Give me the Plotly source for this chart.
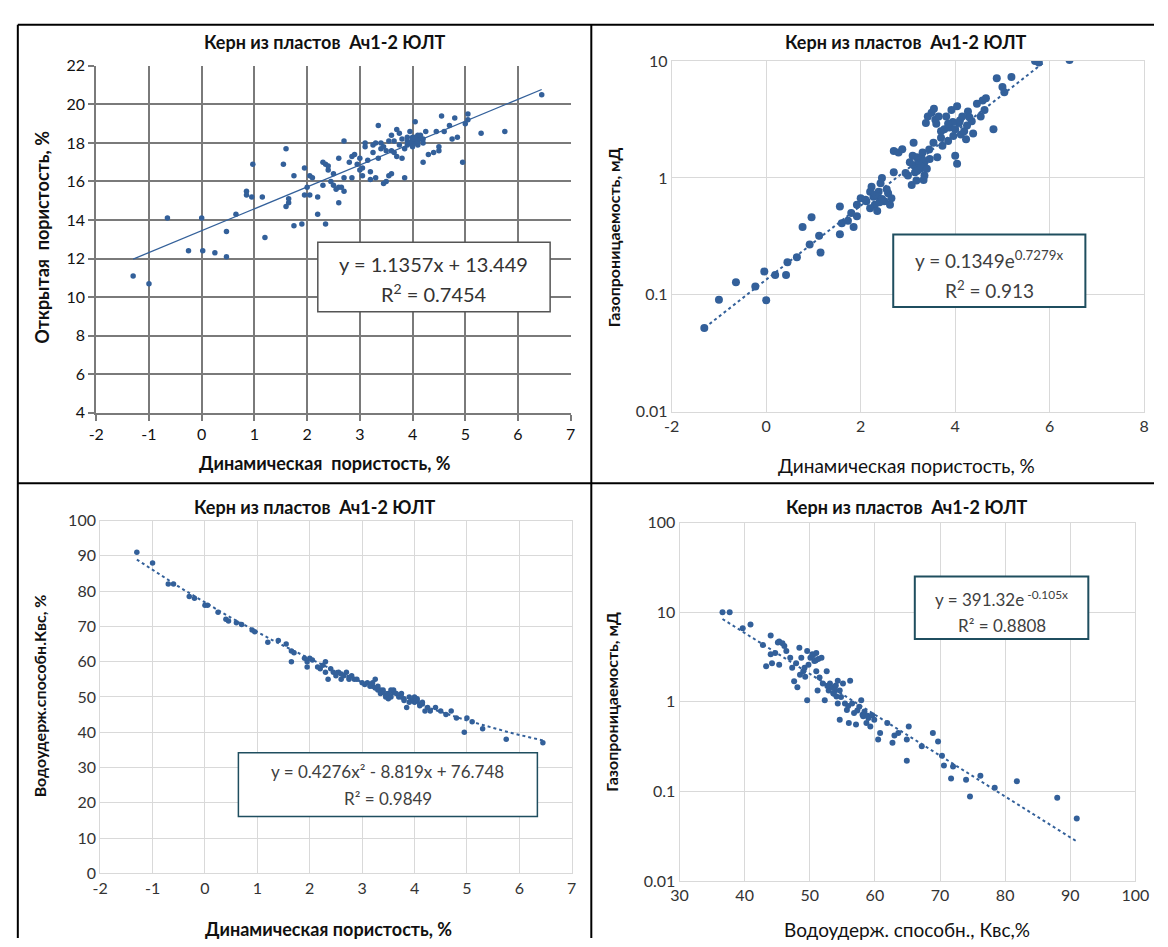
import math
import plotly.graph_objects as go

W, H = 1168, 947
FONT = "Lato"
BLUE = "#33609a"

# ---------------- data ----------------
title_text = "Керн из пластов  Ач1-2 ЮЛТ"

# Panel 1: dynamic porosity vs open porosity
p1_x = [-1.3, -1.0, -0.65, 0.0, -0.25, 0.02, 0.25, 0.47, 0.47, 0.65, 0.85, 0.85, 0.95, 0.97, 1.15,
        1.2, 1.55, 1.6, 1.6, 1.65, 1.65, 1.75, 1.75, 1.9, 1.95, 1.95, 2.0, 2.05, 2.05, 2.1,
        2.2, 2.2, 2.3, 2.3, 2.35, 2.35, 2.4, 2.4, 2.45, 2.5, 2.5, 2.55, 2.6, 2.6, 2.65,
        2.6, 2.7, 2.7, 2.7, 2.8, 2.85, 2.85, 2.9, 3.0, 3.0, 3.05, 3.1, 3.1, 3.2, 3.2,
        3.25, 3.25, 3.3, 3.3, 3.35, 3.35, 3.4, 3.4, 3.45, 3.5, 3.55, 3.6, 3.6, 3.6, 3.65,
        3.7, 3.7, 3.75, 3.8, 3.8, 3.85, 3.9, 3.9, 3.95, 4.0, 4.0, 4.0, 4.05, 4.05, 4.1,
        4.1, 4.15, 4.2, 4.2, 4.25, 4.3, 4.4, 4.45, 4.5, 4.5, 4.55, 4.6, 4.7, 4.75, 4.8,
        4.85, 4.95, 5.0, 5.05, 5.05, 5.3, 5.75, 6.45, 4.1, 3.95, 4.0, 3.15, 3.5, 2.95, 3.85,
        4.05, 4.15, 3.45, 3.55, 3.05, 3.9, 4.0, 4.05, 4.1, 3.95, 4.2, 3.75, 3.65]
p1_y = [11.1, 10.7, 14.1, 14.1, 12.4, 12.4, 12.3, 12.1, 13.4, 14.3, 15.5, 15.3, 15.2, 16.9, 15.2,
        13.1, 16.9, 17.7, 14.7, 15.1, 14.9, 16.3, 13.7, 13.8, 15.3, 16.7, 15.7, 15.3, 16.3, 16.2,
        15.2, 14.3, 17.0, 15.8, 16.9, 13.8, 16.6, 16.8, 16.0, 15.8, 16.4, 15.6, 15.7, 17.2, 15.7,
        14.9, 15.5, 16.2, 18.1, 17.0, 16.2, 17.3, 17.4, 16.6, 17.2, 16.3, 17.8, 18.0, 16.5, 16.1,
        17.5, 17.9, 18.0, 16.2, 18.9, 17.2, 17.7, 18.0, 15.9, 16.0, 16.3, 16.4, 17.6, 18.4, 17.5,
        18.7, 17.3, 18.5, 18.2, 17.2, 16.2, 17.9, 18.3, 18.0, 18.3, 18.1, 17.8, 18.0, 19.1, 18.3,
        17.9, 18.2, 18.0, 17.0, 18.6, 17.4, 17.5, 18.6, 17.6, 17.8, 19.4, 18.6, 18.9, 18.2, 19.3,
        18.3, 17.0, 19.0, 19.5, 19.2, 18.5, 18.6, 20.5, 18.4, 18.6, 18.2, 17.1, 17.6, 16.9, 17.7,
        18.2, 18.4, 17.8, 18.1, 16.7, 18.1, 18.2, 18.3, 18.1, 18.0, 18.2, 17.9, 18.1]
p1_coef = [1.1357, 13.449]
p1_xfit = [-1.3, 6.45]

# Panel 2: dynamic porosity vs gas permeability
p2_x = [-1.31, -1.0, -0.64, -0.23, -0.04, 0.0, 0.19, 0.42, 0.45, 0.65, 0.77, 0.92, 0.96, 1.15,
        1.12, 1.56, 1.56, 1.6, 1.73, 1.85, 1.92, 1.92, 2.0, 2.12, 2.2, 2.23, 2.27, 2.3, 2.35,
        2.38, 2.42, 2.45, 2.5, 2.58, 2.62, 2.65, 2.7, 2.7, 2.8, 2.88, 3.04, 3.08, 3.12, 3.12,
        3.15, 3.19, 3.23, 3.27, 3.31, 3.33, 3.35, 3.38, 3.42, 3.46, 3.5, 3.54, 3.58, 3.62, 3.65,
        3.7, 3.73, 3.77, 3.81, 3.85, 3.88, 3.92, 3.96, 4.0, 4.04, 4.04, 4.08, 4.12, 4.15, 4.19,
        4.23, 4.27, 4.35, 4.38, 4.46, 4.54, 4.58, 4.62, 4.65, 4.81, 4.88, 5.0, 5.04, 5.19, 5.69,
        5.77, 6.42, 3.25, 3.3, 3.2, 2.35, 2.4, 3.6, 3.95, 2.2, 3.0,
        3.28, 3.35, 3.22, 3.4, 3.18, 3.1, 2.95, 2.55, 2.3, 2.45, 3.7, 3.85, 4.1, 4.25, 3.55,
        3.45, 4.0, 4.3, 2.1, 1.8]
p2_y = [0.052, 0.091, 0.128, 0.118, 0.158, 0.09, 0.148, 0.148, 0.19, 0.21, 0.38, 0.27, 0.46, 0.23,
        0.32, 0.33, 0.57, 0.41, 0.43, 0.38, 0.47, 0.59, 0.67, 0.63, 0.76, 0.84, 0.69, 0.59, 0.52,
        0.76, 0.9, 1.0, 0.63, 0.74, 0.59, 0.67, 1.12, 1.7, 1.65, 1.76, 1.36, 0.87, 2.0, 1.28,
        1.12, 1.5, 1.36, 1.2, 1.65, 0.96, 1.36, 2.95, 3.35, 1.45, 3.6, 2.0, 3.15, 1.5, 3.35,
        2.2, 1.88, 2.6, 3.35, 2.07, 2.7, 3.8, 2.28, 1.55, 1.32, 4.1, 2.95, 2.35, 3.35, 2.5,
        2.14, 3.7, 3.05, 2.4, 4.3, 3.35, 4.6, 3.8, 4.8, 2.6, 7.1, 6.0, 5.4, 7.3, 10.0,
        9.7, 10.2, 1.3, 1.45, 1.15, 0.7, 0.62, 2.9, 3.0, 0.55, 1.05,
        1.25, 1.05, 1.4, 1.2, 0.95, 1.55, 1.1, 0.8, 0.72, 0.66, 2.5, 2.9, 3.1, 2.8, 3.9,
        1.75, 2.6, 3.3, 0.65, 0.5]
p2_coef = [0.1349, 0.7279]
p2_xfit = [-1.3, 5.9]

# Panel 3: dynamic porosity vs water retention capacity
p3_x = [-1.3, -1.0, -0.7, -0.6, -0.3, -0.2, 0.0, 0.05, 0.25, 0.4, 0.45, 0.6, 0.7, 0.9, 0.95,
        1.2, 1.4, 1.55, 1.65, 1.7, 1.65, 1.9, 1.95, 2.0, 1.95, 2.2, 2.25, 2.3, 2.3, 2.35,
        2.4, 2.45, 2.5, 2.55, 2.6, 2.65, 2.7, 2.75, 2.8, 2.85, 2.9, 3.0, 3.1, 3.15, 3.2,
        3.25, 3.3, 3.35, 3.4, 3.45, 3.5, 3.55, 3.6, 3.65, 3.7, 3.75, 3.8, 3.85, 3.9, 3.95,
        4.0, 4.05, 4.1, 4.15, 4.2, 4.3, 4.4, 4.5, 4.6, 4.7, 4.8, 4.95, 5.0, 5.1, 5.3,
        5.75, 6.45, 2.05, 2.15, 3.05, 3.3, 3.35, 3.45, 3.6, 3.7, 4.0, 4.05, 4.1, 2.6, 2.75,
        3.2, 3.25, 3.4, 3.5, 3.55, 3.75, 3.8, 3.9, 4.15, 4.25]
p3_y = [91, 88, 82, 82, 78.5, 78, 76, 76, 74, 72, 71.5, 71, 70.5, 69, 68.5,
        65.5, 66, 65, 63, 62.5, 60, 61, 60, 61, 58.5, 58, 59, 57, 60, 55,
        58, 57, 56, 57, 55, 56, 57, 55, 56, 55, 55, 54, 54, 53, 53,
        55, 52, 51, 52, 50, 51, 50, 52, 51, 50, 51, 49, 47, 50, 49,
        50, 49, 48, 48, 46, 46, 47, 46, 45, 46, 44, 40, 44, 43, 41,
        38, 37, 60.5, 58.5, 53.5, 53, 52, 50.5, 51.5, 50.5, 48.5, 49.5, 47.5, 56.5, 55.5,
        54, 52.5, 51.5, 49.5, 52, 50, 49.5, 48.5, 48.5, 47]
p3_coef = [0.4276, -8.819, 76.748]
p3_xfit = [-1.3, 6.45]

# Panel 4: water retention capacity vs gas permeability
p4_x = [36.6, 37.7, 39.7, 40.9, 44.0, 42.8, 45.3, 45.8, 44.0, 43.3, 44.2, 45.3, 44.7, 46.4, 47.0,
        47.3, 47.9, 47.6, 48.1, 48.4, 48.7, 49.0, 49.3, 49.6, 49.8, 50.1, 50.4, 50.7, 51.0, 51.0,
        51.2, 51.5, 49.6, 51.8, 52.0, 52.3, 52.6, 52.9, 53.1, 53.4, 53.7, 54.0, 54.3, 54.3, 54.6,
        54.8, 55.1, 55.4, 54.6, 55.7, 56.0, 56.2, 56.5, 56.8, 57.1, 57.6, 57.9, 58.2, 58.4, 58.7,
        59.0, 59.3, 59.6, 59.9, 60.5, 60.8, 61.9, 62.7, 63.0, 63.6, 64.9, 65.2, 64.9, 67.2, 68.9,
        69.7, 70.3, 70.6, 71.7, 72.0, 74.0, 76.2, 74.6, 78.4, 81.8, 88.0, 91.0,
        50.5, 50.9, 51.3, 49.2, 48.5, 53.6, 53.9, 54.1, 52.7, 55.9, 58.9, 58.1, 57.3, 46.1, 45.1]
p4_y = [10.0, 10.0, 6.6, 7.3, 5.5, 4.3, 4.7, 4.5, 3.4, 2.5, 2.7, 2.6, 3.5, 3.7, 3.1,
        2.4, 2.7, 1.7, 1.45, 4.0, 3.1, 2.2, 1.9, 3.7, 2.6, 3.1, 3.4, 2.85, 3.5, 2.2,
        1.34, 1.87, 1.04, 3.1, 1.6, 1.04, 2.2, 1.34, 1.6, 1.45, 1.23, 1.52, 0.96, 1.72, 1.34,
        1.13, 1.6, 0.96, 0.63, 0.81, 0.58, 1.72, 0.96, 0.75, 0.56, 0.88, 1.04, 0.69, 0.78, 0.58,
        0.66, 0.53, 0.71, 0.63, 0.38, 0.45, 0.58, 0.35, 0.42, 0.45, 0.38, 0.53, 0.22, 0.32, 0.45,
        0.36, 0.25, 0.195, 0.14, 0.19, 0.135, 0.15, 0.088, 0.11, 0.13, 0.085, 0.05,
        3.3, 2.9, 3.0, 2.4, 2.0, 1.25, 1.35, 1.15, 1.5, 0.9, 0.7, 0.72, 0.8, 4.2, 4.6]
p4_coef = [391.32, -0.105]
p4_xfit = [36.6, 91.0]

ticks_lin1 = [-2, -1, 0, 1, 2, 3, 4, 5, 6, 7]
ticks_y1 = [4, 6, 8, 10, 12, 14, 16, 18, 20, 22]
ticks_x2 = [-2, 0, 2, 4, 6, 8]
ticks_log2 = [0.01, 0.1, 1, 10]
ticks_y3 = [0, 10, 20, 30, 40, 50, 60, 70, 80, 90, 100]
ticks_x4 = [30, 40, 50, 60, 70, 80, 90, 100]
ticks_log4 = [0.01, 0.1, 1, 10, 100]


def lbl(v):
    return "%g" % v


def px(x):
    return x / W


def py(y):
    return 1 - y / H


def span(a, b, n):
    return [a + (b - a) * i / n for i in range(n + 1)]


fig = go.Figure()

# ---- traces ----
fig.add_trace(go.Scatter(x=p1_x, y=p1_y, mode="markers", xaxis="x", yaxis="y",
                         marker=dict(color=BLUE, size=5.5)))
fx1 = span(p1_xfit[0], p1_xfit[1], 50)
fig.add_trace(go.Scatter(x=fx1, y=[p1_coef[0] * v + p1_coef[1] for v in fx1], mode="lines",
                         xaxis="x", yaxis="y", line=dict(color=BLUE, width=1.3)))

fig.add_trace(go.Scatter(x=p2_x, y=p2_y, mode="markers", xaxis="x2", yaxis="y2",
                         marker=dict(color=BLUE, size=8)))
fx2 = span(p2_xfit[0], p2_xfit[1], 60)
fig.add_trace(go.Scatter(x=fx2, y=[p2_coef[0] * math.exp(p2_coef[1] * v) for v in fx2], mode="lines",
                         xaxis="x2", yaxis="y2", line=dict(color=BLUE, width=2, dash="dot")))

fig.add_trace(go.Scatter(x=p3_x, y=p3_y, mode="markers", xaxis="x3", yaxis="y3",
                         marker=dict(color=BLUE, size=5.5)))
fx3 = span(p3_xfit[0], p3_xfit[1], 60)
fig.add_trace(go.Scatter(x=fx3, y=[p3_coef[0] * v * v + p3_coef[1] * v + p3_coef[2] for v in fx3],
                         mode="lines", xaxis="x3", yaxis="y3",
                         line=dict(color=BLUE, width=2, dash="dot")))

fig.add_trace(go.Scatter(x=p4_x, y=p4_y, mode="markers", xaxis="x4", yaxis="y4",
                         marker=dict(color=BLUE, size=6)))
fx4 = span(p4_xfit[0], p4_xfit[1], 60)
fig.add_trace(go.Scatter(x=fx4, y=[p4_coef[0] * math.exp(p4_coef[1] * v) for v in fx4], mode="lines",
                         xaxis="x4", yaxis="y4", line=dict(color=BLUE, width=2, dash="dot")))

tickfont = dict(family=FONT, size=16, color="#111111")
tickfont_l = dict(family=FONT, size=16, color="#333333")
DARK_GRID = "#7a7a7a"
LIGHT_GRID = "#d9d9d9"


def light_axis(domain, rng, vals, anchor, log=False):
    d = dict(domain=domain, range=rng, tickvals=vals, ticktext=[lbl(v) for v in vals],
             showgrid=True, gridcolor=LIGHT_GRID, gridwidth=1, zeroline=False, showline=True,
             linecolor=LIGHT_GRID, linewidth=1, mirror=True, ticks="", tickfont=tickfont_l,
             anchor=anchor)
    if log:
        d["type"] = "log"
    return d


layout = dict(
    width=W, height=H, margin=dict(l=0, r=0, t=0, b=0),
    paper_bgcolor="white", plot_bgcolor="white", showlegend=False,
    font=dict(family=FONT),
    xaxis=dict(domain=[px(89), px(573)], range=[-2, 7], tickvals=ticks_lin1,
               ticktext=[lbl(v) for v in ticks_lin1], showgrid=True, gridcolor=DARK_GRID, gridwidth=1.8,
               zeroline=False, showline=True, linecolor=DARK_GRID, linewidth=1.8,
               ticks="outside", ticklen=6, tickcolor=DARK_GRID, tickwidth=1.8, tickfont=tickfont,
               anchor="y"),
    yaxis=dict(domain=[py(411), py(57)], range=[4, 22], tickvals=ticks_y1,
               ticktext=[lbl(v) for v in ticks_y1], showgrid=True, gridcolor=DARK_GRID, gridwidth=1.8,
               zeroline=False, showline=True, linecolor=DARK_GRID, linewidth=1.8,
               ticks="outside", ticklen=6, tickcolor=DARK_GRID, tickwidth=1.8, tickfont=tickfont,
               anchor="x"),
    xaxis2=light_axis([px(676), px(1158)], [-2, 8], ticks_x2, "y2"),
    yaxis2=light_axis([py(410), py(52)], [-2, 1], ticks_log2, "x2", log=True),
    xaxis3=light_axis([px(93), px(574)], [-2, 7], ticks_lin1, "y3"),
    yaxis3=light_axis([py(881), py(521)], [0, 100], ticks_y3, "x3"),
    xaxis4=light_axis([px(684), px(1149)], [30, 100], ticks_x4, "y4"),
    yaxis4=light_axis([py(889), py(523)], [-2, 2], ticks_log4, "x4", log=True),
)
fig.update_layout(**layout)

shapes = []
# outer frame & dividers
for (x0, y0, x1, y1) in [(9, 15, 9, H), (9, 15, W, 15), (594, 15, 594, H), (9, 483, W, 483)]:
    shapes.append(dict(type="line", xref="paper", yref="paper", x0=px(x0), y0=py(y0), x1=px(x1), y1=py(y1),
                       line=dict(color="black", width=2)))

# equation boxes
boxes = [
    dict(x0=315, y0=237, x1=552, y1=308, color="#555555", w=1.5,
         l1="y = 1.1357x + 13.449", l2="R<sup>2</sup> = 0.7454", ty1=259, ty2=289, size=20, c="#333333"),
    dict(x0=902, y0=229, x1=1098, y1=303, color="#1f4e5f", w=2,
         l1="y = 0.1349e<sup>0.7279x</sup>", l2="R<sup>2</sup> = 0.913", ty1=255, ty2=285, size=19, c="#404040"),
    dict(x0=234, y0=758, x1=539, y1=823, color="#1f4e5f", w=1.5,
         l1="y = 0.4276x² - 8.819x + 76.748", l2="R² = 0.9849", ty1=777, ty2=805, size=17, c="#404040"),
    dict(x0=924, y0=578, x1=1101, y1=642, color="#1f4e5f", w=2,
         l1="y = 391.32e<sup> -0.105x</sup>", l2="R² = 0.8808", ty1=601, ty2=628, size=17, c="#404040"),
]
annotations = []
for b in boxes:
    shapes.append(dict(type="rect", xref="paper", yref="paper", x0=px(b["x0"]), y0=py(b["y0"]),
                       x1=px(b["x1"]), y1=py(b["y1"]), fillcolor="white",
                       line=dict(color=b["color"], width=b["w"]), layer="above"))
    cx = px((b["x0"] + b["x1"]) / 2)
    for t, ty in [(b["l1"], b["ty1"]), (b["l2"], b["ty2"])]:
        annotations.append(dict(xref="paper", yref="paper", x=cx, y=py(ty), text=t, showarrow=False,
                                xanchor="center", yanchor="middle",
                                font=dict(family=FONT, size=b["size"], color=b["c"])))

# titles
for (tx, ty) in [(322, 33), (915, 33), (312, 507), (916, 507)]:
    annotations.append(dict(xref="paper", yref="paper", x=px(tx), y=py(ty), text="<b>" + title_text + "</b>",
                            showarrow=False, xanchor="center", yanchor="middle",
                            font=dict(family=FONT, size=18, color="#111111")))

# axis titles
axis_titles = [
    (322, 462, "<b>Динамическая  пористость, %</b>", 0, 18),
    (916, 465, "Динамическая пористость, %", 0, 19),
    (326, 938, "<b>Динамическая пористость, %</b>", 0, 18),
    (916, 938, "Водоудерж. способн., Квс,%", 0, 19),
    (34, 232, "<b>Открытая  пористость, %</b>", -90, 18),
    (616, 232, "<b>Газопроницаемость, мД</b>", -90, 16),
    (32, 700, "<b>Водоудерж.способн.Квс, %</b>", -90, 16),
    (615, 706, "<b>Газопроницаемость, мД</b>", -90, 16),
]
for (tx, ty, t, ang, sz) in axis_titles:
    annotations.append(dict(xref="paper", yref="paper", x=px(tx), y=py(ty), text=t, showarrow=False,
                            xanchor="center", yanchor="middle", textangle=ang,
                            font=dict(family=FONT, size=sz, color="#111111")))

fig.update_layout(shapes=shapes, annotations=annotations)
fig.write_html("out.html", config={"displayModeBar": False},
               post_script="document.body.style.margin='0';document.body.style.overflow='hidden';")
